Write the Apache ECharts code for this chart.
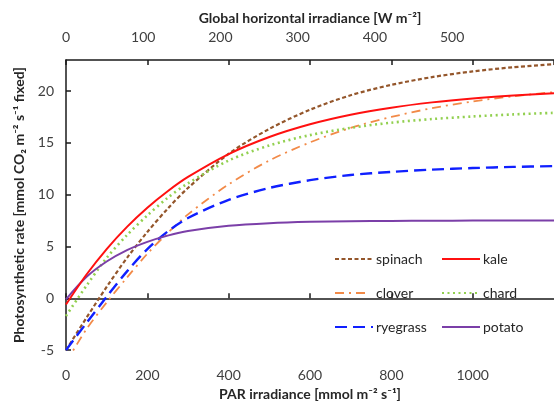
<!DOCTYPE html>
<html>
<head>
<meta charset="utf-8">
<script src="https://cdn.jsdelivr.net/npm/echarts@6/dist/echarts.min.js"></script>
<style>html,body{margin:0;padding:0;background:#fff;}#c{width:554px;height:406px;}</style>
</head>
<body>
<div id="c"></div>
<script>
// PAR irradiance sample points
const par = [0, 50, 100, 150, 200, 250, 300, 400, 500, 600, 700, 800, 900, 1000, 1100, 1200];
const spinach  = [-5.0, -1.9, 1.1, 3.9, 6.4, 8.65, 10.65, 13.95, 16.35, 18.2, 19.6, 20.6, 21.35, 21.9, 22.3, 22.6];
const kale     = [-0.6, 2.27, 4.75, 6.89, 8.74, 10.33, 11.71, 13.92, 15.57, 16.8, 17.72, 18.4, 18.91, 19.29, 19.57, 19.78];
const clover   = [-6.2, -3.0, -0.4, 2.0, 4.3, 6.3, 8.1, 11.0, 13.3, 15.05, 16.45, 17.5, 18.35, 19.0, 19.5, 19.9];
const chard    = [-1.7, 1.2, 3.9, 6.1, 8.0, 9.7, 11.1, 13.3, 14.75, 15.75, 16.45, 16.95, 17.3, 17.55, 17.75, 17.9];
const ryegrass = [-5.0, -2.4, 0.15, 2.6, 4.75, 6.45, 7.75, 9.5, 10.65, 11.4, 11.9, 12.2, 12.42, 12.57, 12.68, 12.76];
const potato   = [-0.1, 2.05, 3.55, 4.65, 5.45, 6.05, 6.5, 7.0, 7.25, 7.38, 7.44, 7.47, 7.49, 7.5, 7.5, 7.5];
const seriesNames = ['spinach', 'kale', 'clover', 'chard', 'ryegrass', 'potato'];
const yTicks = [-5, 0, 5, 10, 15, 20];
const parTicks = [0, 200, 400, 600, 800, 1000];
const ghiTicks = [0, 100, 200, 300, 400, 500];
const ghiMax = 632; // 1200 PAR expressed in W m-2

const FONT = 'Lato, "Liberation Sans", sans-serif';
const pair = arr => par.map((x, i) => [x, arr[i]]);

const styles = {
  spinach:  { color: '#94562B', width: 2.2, type: [4, 2.5] },
  kale:     { color: '#FF1010', width: 2, type: 'solid' },
  clover:   { color: '#F28A48', width: 1.8, type: [9, 5, 2, 5] },
  chard:    { color: '#92D050', width: 2.6, type: [2, 3.5] },
  ryegrass: { color: '#1020FF', width: 2.4, type: [12, 6] },
  potato:   { color: '#7B3FA8', width: 2, type: 'solid' }
};
const dataMap = { spinach, kale, clover, chard, ryegrass, potato };

// legend anchor: [icon left, row top, icon width, text gap]
const legendPos = {
  spinach:  [334, 252, 38, 3], kale:   [441, 252, 38, 3],
  clover:   [334, 286, 32, 9], chard:  [441, 286, 38, 3],
  ryegrass: [334, 320, 38, 3], potato: [441, 320, 38, 3]
};

const chart = echarts.init(document.getElementById('c'), null, { renderer: 'canvas' });
const axisLineStyle = { color: '#1a1a1a', width: 1.5 };

chart.setOption({
  animation: false,
  backgroundColor: '#fff',
  textStyle: { fontFamily: FONT },
  grid: { left: 66, top: 60, right: -6, bottom: 52, containLabel: false },
  legend: seriesNames.map(n => ({
    data: [n],
    left: legendPos[n][0], top: legendPos[n][1],
    padding: 0, itemWidth: legendPos[n][2], itemHeight: 14, itemGap: 0,
    itemStyle: { opacity: 0 },
    textStyle: { fontFamily: FONT, fontSize: 14, color: '#262626', padding: [0, 0, 0, legendPos[n][3] - 5] },
    selectedMode: false
  })),
  xAxis: [
    {
      type: 'value', position: 'bottom', min: 0, max: 1200, interval: 200,
      name: 'PAR irradiance [mmol m\u207B\u00B2 s\u207B\u00B9]', nameLocation: 'middle', nameGap: 34,
      nameTextStyle: { fontFamily: FONT, fontSize: 14, fontWeight: 'bold', color: '#262626' },
      axisLine: { show: true, lineStyle: axisLineStyle },
      axisTick: { show: true, inside: true, length: 5, lineStyle: axisLineStyle },
      axisLabel: { fontFamily: FONT, fontSize: 14, color: '#404040', margin: 18, showMaxLabel: false,
        formatter: v => parTicks.includes(v) ? String(v) : '' },
      splitLine: { show: false }
    },
    {
      type: 'value', position: 'top', min: 0, max: ghiMax, interval: 100,
      name: 'Global horizontal irradiance [W m\u207B\u00B2]', nameLocation: 'middle', nameGap: 34,
      nameTextStyle: { fontFamily: FONT, fontSize: 14, fontWeight: 'bold', color: '#262626' },
      axisLine: { show: false },
      axisTick: { show: false },
      axisLabel: { fontFamily: FONT, fontSize: 14, color: '#404040', margin: 16, showMaxLabel: false,
        formatter: v => ghiTicks.includes(v) ? String(v) : '' },
      splitLine: { show: false }
    },
    {
      type: 'value', position: 'top', min: 0, max: 1200, interval: 200,
      axisLine: { show: true, lineStyle: axisLineStyle },
      axisTick: { show: true, inside: true, length: 5, lineStyle: axisLineStyle },
      axisLabel: { show: false },
      splitLine: { show: false }
    }
  ],
  yAxis: {
    type: 'value', min: -5, max: 23, interval: 5,
    name: 'Photosynthetic rate [mmol CO\u2082 m\u207B\u00B2 s\u207B\u00B9 fixed]',
    nameLocation: 'middle', nameGap: 40, nameRotate: 90,
    nameTextStyle: { fontFamily: FONT, fontSize: 14, fontWeight: 'bold', color: '#262626' },
    axisLine: { show: true, lineStyle: axisLineStyle },
    axisTick: { show: true, inside: true, length: 5, lineStyle: axisLineStyle },
    axisLabel: { fontFamily: FONT, fontSize: 14, color: '#404040', margin: 12, showMaxLabel: false,
      formatter: v => yTicks.includes(v) ? String(v) : '' },
    splitLine: { show: false }
  },
  series: seriesNames.map(n => ({
    name: n, type: 'line', xAxisIndex: 0, data: pair(dataMap[n]),
    smooth: 0.3, symbol: 'none', showSymbol: false, clip: true,
    color: styles[n].color,
    lineStyle: { color: styles[n].color, width: styles[n].width, type: styles[n].type, cap: 'butt' },
    z: n === 'kale' ? 3 : 2
  }))
});
</script>
</body>
</html>
